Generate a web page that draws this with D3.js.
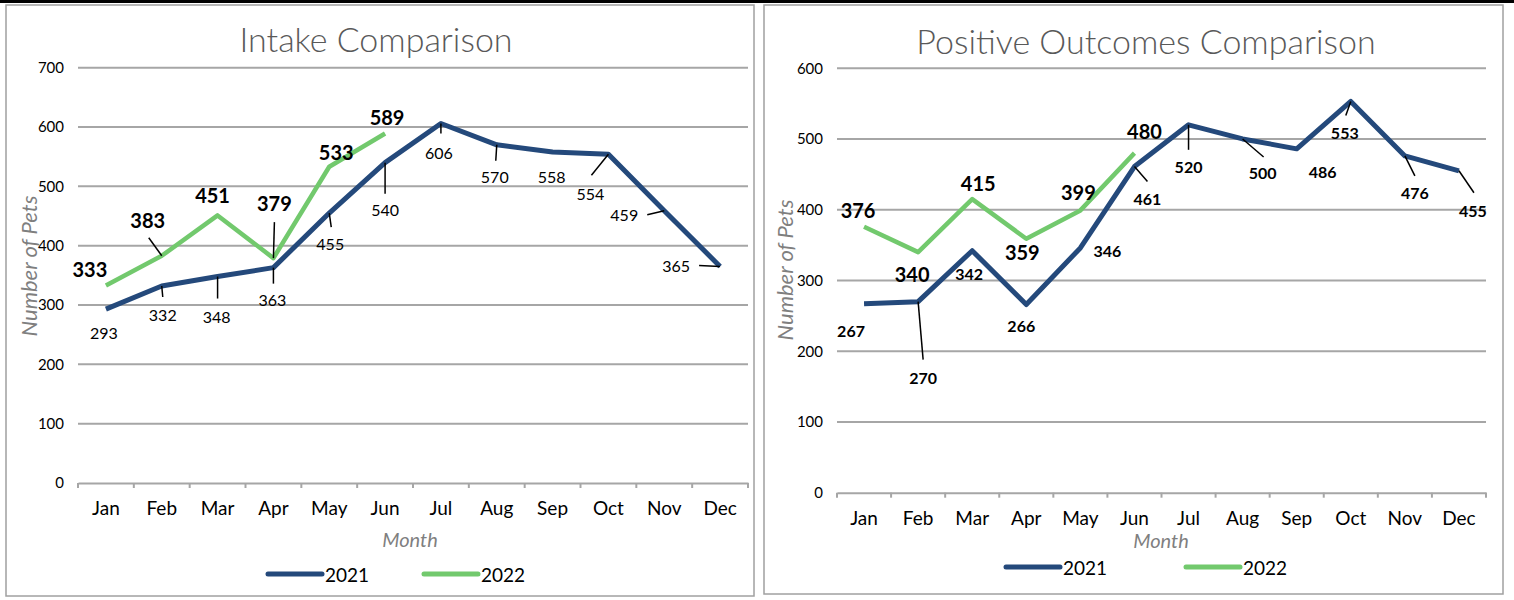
<!DOCTYPE html>
<html>
<head>
<meta charset="utf-8">
<script src="https://cdn.jsdelivr.net/npm/d3@7"></script>
<style>
  body { margin: 0; background: #fff; }
  svg { display: block; font-family: Lato, "Open Sans", sans-serif; }
</style>
</head>
<body>
<svg id="chart" width="1514" height="600"></svg>
<script>
// data
const months = ["Jan", "Feb", "Mar", "Apr", "May", "Jun", "Jul", "Aug", "Sep", "Oct", "Nov", "Dec"];
const intake2021 = [293, 332, 348, 363, 455, 540, 606, 570, 558, 554, 459, 365];
const intake2022 = [333, 383, 451, 379, 533, 589];
const outcomes2021 = [267, 270, 342, 266, 346, 461, 520, 500, 486, 553, 476, 455];
const outcomes2022 = [376, 340, 415, 359, 399, 480];
const intakeTicks = [0, 100, 200, 300, 400, 500, 600, 700];
const outcomeTicks = [0, 100, 200, 300, 400, 500, 600];
const seriesNames = ["2021", "2022"];

// label placement: [dx, dy, leader end dx, leader end dy] relative to the point
const intakeLbl21 = [[-2,23],[1,28,1,11],[-1,40,0,22],[-1,32,0,16],[1,30,2,14],[0,47,0,31],
                     [-2,29,0,10],[-2,32,-1,16],[-1,25],[-18,39,-17,21],[-40,4,-17,4],[-44,-1,-21,-1]];
const intakeLbl22 = [[-16,-16],[-14,-36,-13,-18],[-5,-20],[1,-55,1,-36],[7,-15],[2,-17]];
const outLbl21 = [[-13,27],[5,76,5,58],[-3,23],[-5,21],[27,3],[13,32,13,15],[0,42,0,25],
                  [20,34,21,18],[26,23],[-6,31,-5,14],[10,37,10,20],[14,40,15,22]];
const outLbl22 = [[-6,-17],[-6,22],[6,-16],[-4,13],[-2,-18],[10,-22]];

const navy = "#24497b", green = "#72c96d", grid = "#a6a6a6";
const svg = d3.select("#chart");

// black rule at top
svg.append("rect").attr("x", 0).attr("y", 0).attr("width", 1514).attr("height", 3).attr("fill", "#000");

function drawChart(o) {
  const g = svg.append("g");
  g.append("rect")
   .attr("x", o.box[0]).attr("y", o.box[1]).attr("width", o.box[2]).attr("height", o.box[3])
   .attr("fill", "#fff").attr("stroke", "#a0a0a0").attr("stroke-width", 1.5);

  const x = d3.scaleBand().domain(months).range([o.left, o.right]);
  const y = d3.scaleLinear().domain([0, o.max]).range([o.bottom, o.top]);
  const cx = i => x(months[i]) + x.bandwidth() / 2;

  g.append("text").attr("x", o.titleX).attr("y", o.titleY)
   .attr("text-anchor", "middle").attr("font-size", 34).attr("font-weight", 300)
   .attr("fill", "#595959").text(o.title);

  // gridlines
  g.selectAll("line.grid").data(o.ticks.filter(d => d > 0)).enter().append("line")
   .attr("x1", o.left).attr("x2", o.right).attr("y1", d => y(d)).attr("y2", d => y(d))
   .attr("stroke", grid).attr("stroke-width", 2);

  const yAxis = g.append("g").attr("transform", `translate(${o.left},0)`)
    .call(d3.axisLeft(y).tickValues(o.ticks).tickSize(0).tickPadding(14));
  yAxis.select(".domain").remove();
  yAxis.selectAll("text").attr("font-size", 15).attr("fill", "#000").attr("font-family", "Lato, sans-serif");

  const xAxis = g.append("g").attr("transform", `translate(0,${o.bottom})`)
    .call(d3.axisBottom(x).tickSize(0).tickPadding(19));
  xAxis.select(".domain").attr("stroke", grid).attr("stroke-width", 2);
  xAxis.selectAll("text").attr("font-size", 19).attr("fill", "#000").attr("font-family", "Lato, sans-serif");
  g.selectAll("line.xt").data(d3.range(months.length + 1)).enter().append("line")
   .attr("x1", i => o.left + i * x.step()).attr("x2", i => o.left + i * x.step())
   .attr("y1", o.bottom).attr("y2", o.bottom + 5).attr("stroke", grid).attr("stroke-width", 2);

  g.append("text").attr("transform", `translate(${o.yTitleX},${o.yTitleY}) rotate(-90)`)
   .attr("text-anchor", "middle").attr("font-size", 22).attr("font-style", "italic")
   .attr("fill", "#7f7f7f").text("Number of Pets");
  g.append("text").attr("x", o.monthX).attr("y", o.monthY)
   .attr("text-anchor", "middle").attr("font-size", 20).attr("font-style", "italic")
   .attr("fill", "#7f7f7f").text("Month");

  const line = d3.line().x((d, i) => cx(i)).y(d => y(d));
  g.append("path").datum(o.s21).attr("d", line).attr("fill", "none")
   .attr("stroke", navy).attr("stroke-width", 5).attr("stroke-linejoin", "round");
  g.append("path").datum(o.s22).attr("d", line).attr("fill", "none")
   .attr("stroke", green).attr("stroke-width", 4.5).attr("stroke-linejoin", "round");

  function labels(vals, offs, size, weight) {
    vals.forEach((v, i) => {
      const px = cx(i), py = y(v), off = offs[i];
      if (off.length > 2) {
        g.append("line").attr("x1", px).attr("y1", py).attr("x2", px + off[2]).attr("y2", py + off[3])
         .attr("stroke", "#000").attr("stroke-width", 1.5);
      }
      g.append("text").attr("x", px + off[0]).attr("y", py + off[1])
       .attr("text-anchor", "middle").attr("dominant-baseline", "central")
       .attr("font-size", size).attr("font-weight", weight).attr("fill", "#000").text(v);
    });
  }
  labels(o.s21, o.l21, o.size21, o.weight21);
  labels(o.s22, o.l22, 20, "bold");

  // legend
  [navy, green].forEach((c, i) => {
    const lx = o.legendX[i];
    g.append("line").attr("x1", lx).attr("x2", lx + 54).attr("y1", o.legendY).attr("y2", o.legendY)
     .attr("stroke", c).attr("stroke-width", 5).attr("stroke-linecap", "round");
    g.append("text").attr("x", lx + 57).attr("y", o.legendY).attr("dominant-baseline", "central")
     .attr("font-size", 19).attr("fill", "#000").text(seriesNames[i]);
  });
}

drawChart({
  box: [6, 5, 748, 591], title: "Intake Comparison", titleX: 376, titleY: 52,
  left: 78, right: 748, top: 67.7, bottom: 483, max: 700, ticks: intakeTicks,
  s21: intake2021, s22: intake2022, l21: intakeLbl21, l22: intakeLbl22,
  size21: 16, weight21: "normal",
  yTitleX: 37, yTitleY: 266, monthX: 410, monthY: 547, legendX: [268, 424], legendY: 574
});
drawChart({
  box: [764, 5, 739, 589], title: "Positive Outcomes Comparison", titleX: 1146, titleY: 54,
  left: 837, right: 1486, top: 68.2, bottom: 492.7, max: 600, ticks: outcomeTicks,
  s21: outcomes2021, s22: outcomes2022, l21: outLbl21, l22: outLbl22,
  size21: 16, weight21: "bold",
  yTitleX: 793, yTitleY: 270, monthX: 1161, monthY: 548, legendX: [1006, 1186], legendY: 567
});
</script>
</body>
</html>
